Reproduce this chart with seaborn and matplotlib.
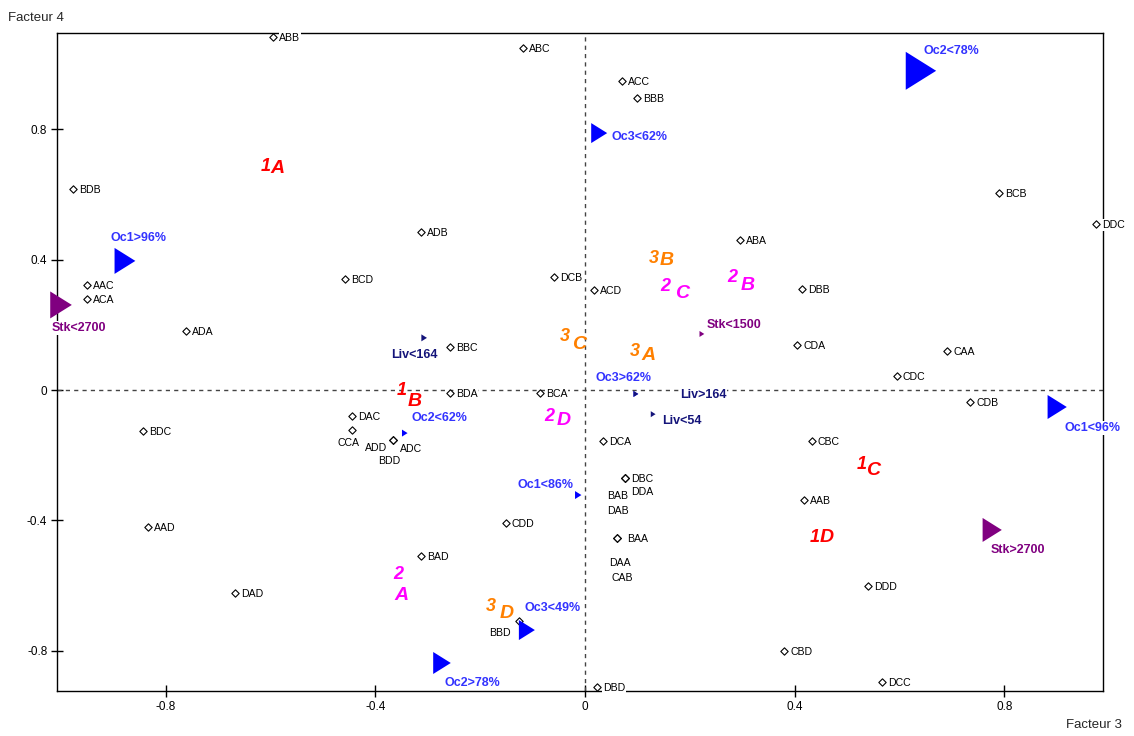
import numpy as np
import pandas as pd
import seaborn as sns
import matplotlib.pyplot as plt
from matplotlib.path import Path

# Individus (losanges)
ind_names = ["ABB", "ABC", "ACC", "BBB", "BDB", "BCB", "DDC", "ADB", "ABA", "AAC",
             "ACA", "BCD", "DCB", "ACD", "DBB", "ADA", "BBC", "CDA", "CAA", "CDC",
             "BDA", "BCA", "CDB", "DAC", "BDC", "CCA", "ADD", "ADC", "BDD", "DCA",
             "CBC", "DBC", "BAB", "DDA", "DAB", "AAB", "CDD", "AAD", "BAA", "DAA",
             "CAB", "BAD", "DDD", "DAD", "BBD", "CBD", "DCC", "DBD"]
ind_x = [-0.595, -0.118, 0.071, 0.099, -0.977, 0.790, 0.975, -0.313, 0.296, -0.950,
         -0.950, -0.458, -0.059, 0.017, 0.414, -0.761, -0.258, 0.405, 0.691, 0.595,
         -0.258, -0.086, 0.735, -0.445, -0.844, -0.445, -0.366, -0.366, -0.366, 0.034,
         0.433, 0.076, 0.076, 0.076, 0.076, 0.418, -0.151, -0.834, 0.061, 0.061,
         0.061, -0.313, 0.540, -0.668, -0.126, 0.380, 0.567, 0.023]
ind_y = [1.083, 1.049, 0.948, 0.896, 0.617, 0.604, 0.509, 0.485, 0.460, 0.322,
         0.279, 0.340, 0.347, 0.307, 0.310, 0.181, 0.132, 0.138, 0.120, 0.043,
         -0.009, -0.009, -0.037, -0.080, -0.126, -0.123, -0.153, -0.153, -0.153, -0.156,
         -0.156, -0.270, -0.270, -0.270, -0.270, -0.337, -0.408, -0.420, -0.454, -0.454,
         -0.454, -0.509, -0.601, -0.623, -0.709, -0.801, -0.896, -0.911]

# Modalites (triangles)
mod_names = ["Oc2<78%", "Oc3<62%", "Oc1>96%", "Oc1<96%", "Oc3<49%", "Oc2>78%",
             "Stk<2700", "Stk>2700", "Liv<164", "Stk<1500", "Oc3>62%", "Liv>164",
             "Liv<54", "Oc2<62%", "Oc1<86%"]
mod_kind = ["Oc", "Oc", "Oc", "Oc", "Oc", "Oc",
            "Stk", "Stk", "Liv", "Stk", "Oc", "Liv",
            "Liv", "Oc", "Oc"]
mod_x = [0.641, 0.027, -0.878, 0.901, -0.111, -0.273,
         -1.000, 0.777, -0.307, 0.223, 0.097, 0.097,
         0.130, -0.344, -0.013]
mod_y = [0.979, 0.788, 0.396, -0.052, -0.736, -0.837,
         0.261, -0.429, 0.160, 0.172, -0.012, -0.012,
         -0.074, -0.132, -0.322]

# Groupes (classes)
grp_num = ["1", "1", "1", "1", "2", "2", "2", "2", "3", "3", "3", "3"]
grp_let = ["A", "B", "C", "D", "A", "B", "C", "D", "A", "B", "C", "D"]
grp_x = [-0.609, -0.349, 0.527, 0.439, -0.357, 0.281, 0.153, -0.069, 0.095, 0.132, -0.038, -0.179]
grp_y = [0.687, 0.000, -0.227, -0.451, -0.567, 0.344, 0.316, -0.080, 0.117, 0.402, 0.163, -0.663]

tick_vals = [-0.8, -0.4, 0, 0.4, 0.8]
tick_labels = ["-0.8", "-0.4", "0", "0.4", "0.8"]

# --- styles ---
kind_color = {"Oc": "#0000ff", "Liv": "#14147a", "Stk": "#800080"}
label_color = {"Oc": "#3333ff", "Liv": "#14147a", "Stk": "#800080"}
grp_color = {"1": "#ff0000", "2": "#ff00ff", "3": "#ff8000"}
# hauteur des triangles en pixels
mod_height = [38, 20, 26, 24, 20, 22, 27, 24, 7, 6, 6, 6, 6, 7, 8]
# decalages des etiquettes (pixels) : dx, dy, alignement
mod_off = [(3, 20, "left"), (12, -4, "left"), (14, 23, "center"), (7, -21, "left"),
           (-2, 22, "left"), (3, -20, "left"), (-9, -23, "left"), (-2, -20, "left"),
           (-10, -17, "center"), (5, 9, "left"), (-12, 16, "center"), (44, -1, "left"),
           (9, -7, "left"), (7, 15, "left"), (-5, 10, "right")]
ind_off = {"CCA": (-3, -13, "center"), "ADD": (-17, -8, "center"), "ADC": (18, -9, "center"),
           "BDD": (-4, -21, "center"), "BAB": (-7, -18, "center"), "DDA": (17, -14, "center"),
           "DAB": (-7, -33, "center"), "DAA": (3, -25, "center"), "CAB": (5, -40, "center"),
           "BBD": (-19, -12, "center"), "BAA": (10, -1, "left")}
grp_off = [(12, -2), (13, -11), (12, -6), (12, 0), (3, -21), (15, -8),
           (17, -7), (15, -4), (14, -4), (13, -2), (14, -8), (15, -7)]

sns.set_style("white")
plt.rcParams["font.family"] = ["Liberation Sans", "DejaVu Sans"]
plt.rcParams["axes.unicode_minus"] = False

fig = plt.figure(figsize=(11.34, 7.36), dpi=100)
ax = fig.add_axes([0.0503, 0.0611, 0.9224, 0.8941])
ax.set_xlim(-1.0076, 0.9885)
ax.set_ylim(-0.923, 1.095)

ax.axhline(0, color="#444444", lw=1, ls=(0, (3, 3)), zorder=1)
ax.axvline(0, color="#444444", lw=1, ls=(0, (3, 3)), zorder=1)

white = dict(facecolor="white", edgecolor="none", pad=0.5)

# individus
ind = pd.DataFrame({"x": ind_x, "y": ind_y, "nom": ind_names})
sns.scatterplot(data=ind, x="x", y="y", marker="D", s=14, color="white",
                edgecolor="black", linewidth=0.8, ax=ax, zorder=5, legend=False)
for nom, x, y in zip(ind_names, ind_x, ind_y):
    dx, dy, ha = ind_off.get(nom, (6, -1, "left"))
    ax.annotate(nom, (x, y), xytext=(dx, dy), textcoords="offset pixels",
                ha=ha, va="center", fontsize=7.6, color="black",
                bbox=white, zorder=3, annotation_clip=False)

# modalites
tri = Path([(-0.8, 1), (0.8, 0), (-0.8, -1), (-0.8, 1)],
           [Path.MOVETO, Path.LINETO, Path.LINETO, Path.CLOSEPOLY])
mod = pd.DataFrame({"x": mod_x, "y": mod_y, "kind": mod_kind})
sizes = [(h * 0.72) ** 2 for h in mod_height]
sns.scatterplot(data=mod, x="x", y="y", hue="kind", palette=kind_color, marker=tri,
                s=sizes, linewidth=0, edgecolor="none", ax=ax, zorder=6,
                legend=False, clip_on=False)
for nom, k, x, y, (dx, dy, ha) in zip(mod_names, mod_kind, mod_x, mod_y, mod_off):
    ax.annotate(nom, (x, y), xytext=(dx, dy), textcoords="offset pixels",
                ha=ha, va="center", fontsize=9, fontweight="bold",
                color=label_color[k], bbox=white, zorder=3, annotation_clip=False)

# groupes
for n, l, x, y, (dx, dy) in zip(grp_num, grp_let, grp_x, grp_y, grp_off):
    ax.annotate(n, (x, y), ha="center", va="center", fontsize=13,
                fontweight="bold", fontstyle="italic", color=grp_color[n], zorder=4)
    ax.annotate(l, (x, y), xytext=(dx, dy), textcoords="offset pixels",
                ha="center", va="center", fontsize=14, fontweight="bold",
                fontstyle="italic", color=grp_color[n], zorder=4)

ax.set_xticks(tick_vals)
ax.set_xticklabels(tick_labels)
ax.set_yticks(tick_vals)
ax.set_yticklabels(tick_labels)
ax.tick_params(direction="inout", length=8, width=1, colors="black",
               labelsize=8.5, bottom=True, left=True, pad=3)
for sp in ax.spines.values():
    sp.set_visible(True)
    sp.set_color("black")
    sp.set_linewidth(1)
ax.set_xlabel("")
ax.set_ylabel("")

fig.text(8 / 1134, 1 - 18 / 736, "Facteur 4", fontsize=9.5, ha="left", va="center")
fig.text(1122 / 1134, 1 - 725 / 736, "Facteur 3", fontsize=9.5, ha="right", va="center")

fig.savefig("out.png", dpi=100, facecolor="white")
